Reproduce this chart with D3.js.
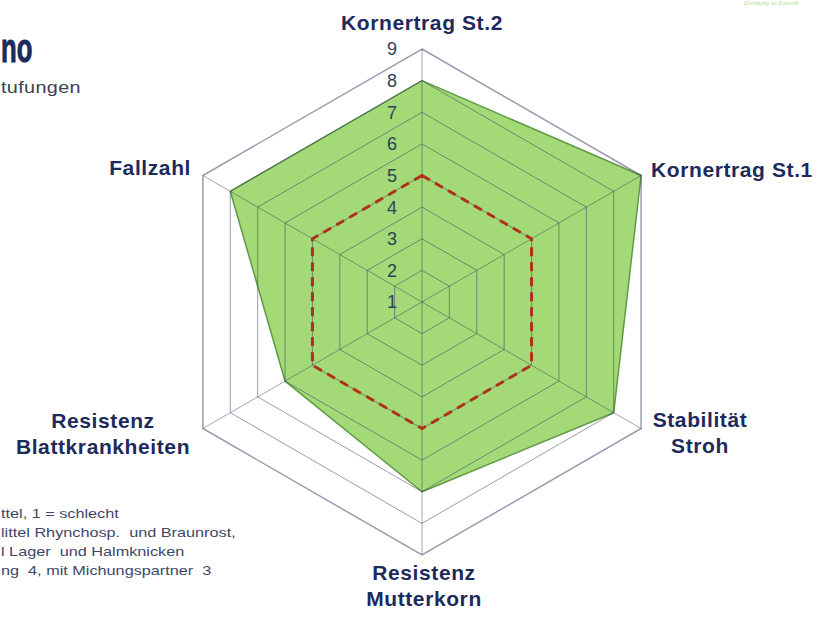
<!DOCTYPE html>
<html>
<head>
<meta charset="utf-8">
<script src="https://cdn.jsdelivr.net/npm/d3@7"></script>
<style>
  body { margin: 0; background: #fff; }
  svg { display: block; }
  svg text { font-family: Arial, "Liberation Sans", Helvetica, sans-serif; }
</style>
</head>
<body>
<svg id="chart" width="821" height="617"></svg>
<script>
// axis order clockwise from top
var axes = ["Kornertrag St.2", "Kornertrag St.1", "Stabilität Stroh", "Resistenz Mutterkorn", "Resistenz Blattkrankheiten", "Fallzahl"];
var sortValues = [8, 9, 8, 7, 6, 8];
var mittelValues = [5, 5, 5, 5, 5, 5];
var ticks = [1, 2, 3, 4, 5, 6, 7, 8, 9];
// visible parts of the slide text (cut by the left edge in the picture)
var notes = [
  "ttel, 1 = schlecht",
  "littel Rhynchosp.  und Braunrost,",
  "l Lager  und Halmknicken",
  "ng  4, mit Michungspartner  3"
];

var navy = "#1c2a5c";
var cx = 422, cy = 302, R = 253;

var svg = d3.select("#chart");

var r = d3.scaleLinear().domain([1, 9]).range([0, R]);
var angle = d3.scalePoint().domain(d3.range(axes.length)).range([0, 2 * Math.PI * (axes.length - 1) / axes.length]);

var point = function(i, v) {
  var a = angle(i) - Math.PI / 2;
  return [cx + r(v) * Math.cos(a), cy + r(v) * Math.sin(a)];
};
var ring = function(vals) {
  return vals.map(function(v, i) { return point(i, v).join(","); }).join(" ");
};

// filled series
svg.append("polygon")
  .attr("points", ring(sortValues))
  .attr("fill", "#a3d977")
  .attr("stroke", "#5f9a45")
  .attr("stroke-width", 1.5)
  .attr("stroke-linejoin", "round");

// grid rings + spokes (drawn over the fill, semi transparent)
var grid = svg.append("g").attr("class", "grid");
grid.selectAll("polygon")
  .data(ticks.slice(1))
  .enter().append("polygon")
  .attr("points", function(t) { return ring(axes.map(function() { return t; })); })
  .attr("fill", "none")
  .attr("stroke", "rgba(50,60,95,0.5)")
  .attr("stroke-width", function(t) { return t == 9 ? 1.5 : 1; });
grid.selectAll("line")
  .data(axes)
  .enter().append("line")
  .attr("x1", cx).attr("y1", cy)
  .attr("x2", function(d, i) { return point(i, 9)[0]; })
  .attr("y2", function(d, i) { return point(i, 9)[1]; })
  .attr("stroke", "rgba(50,60,95,0.45)")
  .attr("stroke-width", 1);

// average line (5 = Mittel)
svg.append("polygon")
  .attr("points", ring(mittelValues))
  .attr("fill", "none")
  .attr("stroke", "#b0301c")
  .attr("stroke-width", 3)
  .attr("stroke-dasharray", "9,6");

// tick labels
svg.append("g").selectAll("text")
  .data(ticks)
  .enter().append("text")
  .attr("x", cx - 30)
  .attr("y", function(t) { return cy - r(t); })
  .attr("dy", "0.36em")
  .attr("text-anchor", "middle")
  .attr("font-size", 18)
  .attr("fill", "#2d4352")
  .text(function(t) { return t; });

// axis labels
var labelPos = [
  {x: 422, y: 30, anchor: "middle", lines: ["Kornertrag St.2"]},
  {x: 651, y: 177, anchor: "start", lines: ["Kornertrag St.1"]},
  {x: 700, y: 427, anchor: "middle", lines: ["Stabilität", "Stroh"]},
  {x: 424, y: 580, anchor: "middle", lines: ["Resistenz", "Mutterkorn"]},
  {x: 103, y: 428, anchor: "middle", lines: ["Resistenz", "Blattkrankheiten"]},
  {x: 191, y: 175, anchor: "end", lines: ["Fallzahl"]}
];
var lab = svg.append("g").selectAll("text")
  .data(labelPos)
  .enter().append("text")
  .attr("x", function(d) { return d.x; })
  .attr("y", function(d) { return d.y; })
  .attr("text-anchor", function(d) { return d.anchor; })
  .attr("font-size", 21)
  .attr("font-weight", "bold")
  .attr("letter-spacing", 0.6)
  .attr("fill", navy);
lab.selectAll("tspan")
  .data(function(d) { return d.lines.map(function(l) { return {t: l, x: d.x}; }); })
  .enter().append("tspan")
  .attr("x", function(d) { return d.x; })
  .attr("dy", function(d, i) { return i ? 26 : 0; })
  .text(function(d) { return d.t; });

// title block (only its right end is visible on the slide)
svg.append("text")
  .attr("transform", "translate(1,62) scale(0.64,1)")
  .attr("font-size", 40)
  .attr("font-weight", "bold")
  .attr("stroke", navy)
  .attr("stroke-width", 1)
  .attr("fill", navy)
  .text("no");
svg.append("text")
  .attr("transform", "translate(1,93) scale(1.2,1)")
  .attr("font-size", 16.5)
  .attr("letter-spacing", 0.3)
  .attr("fill", "#3a4256")
  .text("tufungen");

// footnotes
svg.append("g").selectAll("text")
  .data(notes)
  .enter().append("text")
  .attr("transform", function(d, i) { return "translate(1," + (518 + i * 19) + ") scale(1.25,1)"; })
  .attr("font-size", 13)
  .attr("fill", "#3d4868")
  .style("white-space", "pre")
  .text(function(d) { return d; });

// faint logo slogan top right
svg.append("text")
  .attr("x", 744).attr("y", 5)
  .attr("font-size", 6)
  .attr("font-style", "italic")
  .attr("fill", "#b4dc96")
  .text("Züchtung ist Zukunft");
</script>
</body>
</html>
